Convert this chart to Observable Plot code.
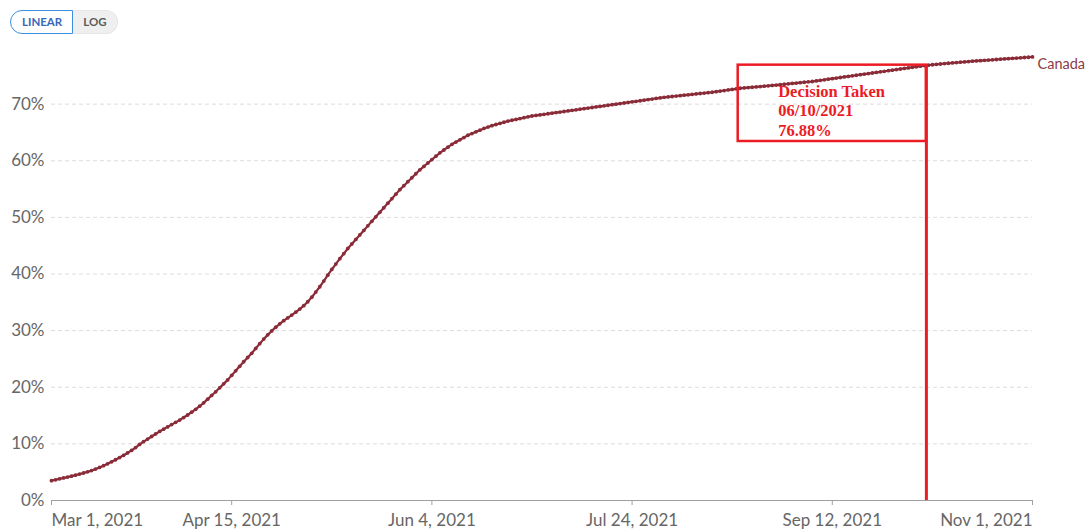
<!DOCTYPE html>
<html><head><meta charset="utf-8">
<script src="https://cdn.jsdelivr.net/npm/d3@7"></script>
<script src="https://cdn.jsdelivr.net/npm/@observablehq/plot@0.6"></script>
<style>
body{margin:0;background:#fff;font-family:Lato,sans-serif}
#wrap{position:relative;width:1088px;height:532px}
.btns{position:absolute;left:10px;top:10px;display:flex;font:bold 11.5px Lato,sans-serif;z-index:2}
.b{box-sizing:border-box;height:24px;line-height:22px;}
.on{border:1px solid #3d8ee0;border-radius:12px 0 0 12px;color:#3768b8;background:#fff;padding:0 10px 0 11px}
.off{border:1px solid #e6e6e6;border-left:none;border-radius:0 12px 12px 0;color:#5c5c5c;background:#efefef;padding:0 10px 0 10px}
#chart{position:absolute;left:0;top:0}
</style></head><body>
<div id="wrap">
<div class="btns"><span class="b on">LINEAR</span><span class="b off">LOG</span></div>
<div id="chart"></div>
</div>
<script>
const seriesName = "Canada";
const startDate = "2021-03-01";
// share of people vaccinated (%), one value per day from Mar 1, 2021
const values = [
3.50,3.66,3.82,3.98,4.14,4.30,4.48,4.66,4.86,5.06,
5.28,5.55,5.84,6.15,6.48,6.83,7.20,7.58,7.98,8.40,
8.85,9.35,9.90,10.40,10.85,11.30,11.75,12.20,12.60,13.00,
13.40,13.80,14.20,14.65,15.10,15.60,16.10,16.65,17.25,17.90,
18.55,19.20,19.90,20.60,21.30,22.10,22.90,23.70,24.50,25.25,
26.00,26.85,27.70,28.50,29.25,29.95,30.60,31.20,31.75,32.25,
32.75,33.25,33.80,34.40,35.10,35.90,36.80,37.75,38.75,39.80,
40.80,41.75,42.70,43.60,44.50,45.30,46.10,46.90,47.70,48.50,
49.30,50.10,50.90,51.70,52.50,53.30,54.10,54.90,55.60,56.30,
57.00,57.70,58.40,59.00,59.60,60.20,60.80,61.40,61.90,62.40,
62.90,63.30,63.70,64.10,64.50,64.80,65.10,65.40,65.70,65.95,
66.20,66.40,66.60,66.80,67.00,67.15,67.30,67.45,67.60,67.75,
67.90,68.00,68.10,68.20,68.30,68.40,68.50,68.60,68.70,68.80,
68.90,69.00,69.10,69.20,69.30,69.40,69.50,69.60,69.70,69.80,
69.90,70.00,70.10,70.20,70.30,70.40,70.50,70.60,70.70,70.80,
70.90,71.00,71.10,71.20,71.28,71.35,71.43,71.50,71.58,71.65,
71.73,71.80,71.88,71.95,72.03,72.10,72.20,72.30,72.40,72.50,
72.60,72.70,72.80,72.86,72.92,72.98,73.04,73.10,73.17,73.23,
73.30,73.37,73.44,73.51,73.58,73.65,73.72,73.79,73.86,73.93,
74.00,74.10,74.20,74.30,74.40,74.50,74.60,74.70,74.80,74.90,
75.00,75.10,75.20,75.30,75.40,75.50,75.60,75.70,75.80,75.90,
76.00,76.10,76.20,76.30,76.40,76.50,76.60,76.70,76.80,76.88,
76.95,77.02,77.09,77.16,77.22,77.28,77.34,77.40,77.46,77.52,
77.58,77.63,77.68,77.73,77.78,77.83,77.88,77.93,77.98,78.03,
78.08,78.13,78.18,78.23,78.28,78.33
];
const xTickDates = ["2021-03-01","2021-04-15","2021-06-04","2021-07-24","2021-09-12","2021-11-01"];
const xTickLabels = ["Mar 1, 2021","Apr 15, 2021","Jun 4, 2021","Jul 24, 2021","Sep 12, 2021","Nov 1, 2021"];
const yTicks = [0,10,20,30,40,50,60,70];
const decisionDate = "2021-10-05T12:00Z";
const decisionValue = 76.88;
const decisionLabel = ["Decision Taken","06/10/2021","76.88%"];
const boxStartDate = "2021-08-19T12:00Z";
const boxBottomValue = 63.4;

const lineColor = "#8a2b38";
const red = "#ec1c24";
const start = new Date(startDate);
const rows = values.map((v,i)=>({date: d3.utcDay.offset(start, i), value: v}));
const ticks = xTickDates.map((d,i)=>({date: new Date(d), label: xTickLabels[i]}));
const last = rows[rows.length-1];

const plot = Plot.plot({
  width: 1088, height: 532,
  marginLeft: 51, marginRight: 56, marginTop: 47, marginBottom: 32,
  style: {fontFamily: "Lato, sans-serif", background: "transparent", overflow: "visible"},
  x: {type: "utc", domain: [ticks[0].date, ticks[ticks.length-1].date], axis: null},
  y: {domain: [0, 80], axis: null},
  marks: [
    Plot.ruleY(yTicks.filter(d=>d>0), {stroke: "#dcdcdc", strokeDasharray: "4,3"}),
    Plot.ruleY([0], {stroke: "#a0a0a0"}),
    Plot.ruleX(ticks, {x: "date", y1: 0, y2: 0, insetBottom: -5, stroke: "#a0a0a0"}),
    Plot.text(yTicks, {x: () => start, y: d=>d, text: d=>d+"%", textAnchor: "end", dx: -7, fontSize: 17, fill: "#666"}),
    Plot.text(ticks.slice(0,1), {x: "date", y: () => 0, text: "label", textAnchor: "start", dy: 20, fontSize: 17, fill: "#666"}),
    Plot.text(ticks.slice(1,-1), {x: "date", y: () => 0, text: "label", textAnchor: "middle", dy: 20, fontSize: 17, fill: "#666"}),
    Plot.text(ticks.slice(-1), {x: "date", y: () => 0, text: "label", textAnchor: "end", dy: 20, fontSize: 17, fill: "#666"}),
    Plot.line(rows, {x: "date", y: "value", stroke: lineColor, strokeWidth: 2.2}),
    Plot.dot(rows, {x: "date", y: "value", r: 1.9, fill: lineColor}),
    Plot.text([last], {x: "date", y: "value", text: () => seriesName, textAnchor: "start", dx: 5, dy: 7, fontSize: 14.5, fill: "#8e3a46"}),
    Plot.rect([decisionValue], {x1: () => new Date(boxStartDate), x2: () => new Date(decisionDate), y1: () => boxBottomValue, y2: d => d, fill: "none", stroke: red, strokeWidth: 2.5}),
    Plot.ruleX([decisionValue], {x: () => new Date(decisionDate), y1: () => 0, y2: d => d, stroke: red, strokeWidth: 3}),
    Plot.text([decisionLabel.join("\n")], {x: () => new Date(boxStartDate), y: () => decisionValue, text: d => d, textAnchor: "start", lineAnchor: "top", dx: 40, dy: 18, lineHeight: 1.18, fontFamily: "Liberation Serif, serif", fontWeight: "bold", fontSize: 16.5, fill: red})
  ]
});
document.getElementById("chart").appendChild(plot);
</script>
</body></html>
